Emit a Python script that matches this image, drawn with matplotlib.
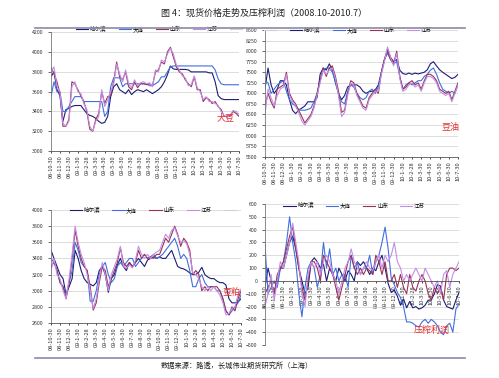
import numpy as np
import matplotlib
matplotlib.use('Agg')
import matplotlib.pyplot as plt
from matplotlib.lines import Line2D

plt.rcParams['font.family'] = ['Noto Sans CJK SC', 'DejaVu Sans']

# 月度刻度
months = ['08-10-30', '08-11-30', '08-12-30', '09-1-30', '09-2-28', '09-3-30', '09-4-30',
          '09-5-30', '09-6-30', '09-7-30', '09-8-30', '09-9-30', '09-10-30', '09-11-30',
          '09-12-30', '10-1-30', '10-2-28', '10-3-30', '10-4-30', '10-5-30', '10-6-30', '10-7-30']
names = ['哈尔滨', '大连', '山东', '江苏']
colors = ['#1c1c78', '#3f6fe0', '#993355', '#c48de6']

# 大豆
soy_hrb = [3750, 3800, 3620, 3560, 3300, 3420, 3430, 3450, 3460, 3460,
           3460, 3420, 3380, 3360, 3350, 3330, 3300, 3280, 3290, 3350,
           3550, 3650, 3680, 3620, 3600, 3580, 3620, 3570, 3600, 3620,
           3610, 3600, 3620, 3600, 3580, 3600, 3620, 3650, 3700, 3770,
           3860, 3830, 3825, 3825, 3825, 3825, 3820, 3800, 3800, 3800,
           3800, 3800, 3800, 3790, 3790, 3700, 3560, 3530, 3520, 3520,
           3520, 3520, 3520, 3520]
soy_dl = [3550, 3700, 3600, 3600, 3400, 3400, 3450, 3500, 3550, 3550,
          3550, 3500, 3500, 3500, 3500, 3500, 3500, 3500, 3350, 3400,
          3650, 3740, 3740, 3740, 3650, 3680, 3680, 3680, 3680, 3680,
          3680, 3680, 3680, 3660, 3660, 3680, 3700, 3750, 3750, 3800,
          3850, 3860, 3860, 3860, 3860, 3860, 3860, 3860, 3860, 3860,
          3860, 3860, 3860, 3860, 3860, 3820, 3730, 3680, 3670, 3670,
          3670, 3670, 3670, 3670]
soy_sd = [3850, 3780, 3700, 3580, 3250, 3250, 3320, 3700, 3680, 3620,
          3560, 3500, 3400, 3220, 3200, 3320, 3380, 3600, 3480, 3550,
          3560, 3700, 3900, 3750, 3720, 3800, 3650, 3620, 3700, 3640,
          3680, 3680, 3670, 3680, 3660, 3800, 3820, 3900, 3880, 4000,
          4050, 3950, 3850, 3800, 3780, 3720, 3680, 3650, 3750, 3620,
          3620, 3500, 3540, 3520, 3480, 3500, 3450, 3420, 3350, 3350,
          3350, 3400, 3380, 3350]
soy_js = [3800, 3850, 3650, 3600, 3280, 3250, 3300, 3650, 3700, 3600,
          3580, 3480, 3420, 3250, 3200, 3300, 3350, 3620, 3450, 3520,
          3600, 3680, 3880, 3780, 3700, 3820, 3680, 3640, 3720, 3660,
          3690, 3700, 3680, 3690, 3650, 3820, 3800, 3920, 3900, 3980,
          4040, 3980, 3870, 3820, 3760, 3740, 3660, 3670, 3760, 3640,
          3600, 3520, 3550, 3500, 3500, 3480, 3460, 3400, 3360, 3340,
          3360, 3410, 3400, 3370]

# 豆油
oil_hrb = [7100, 7600, 7200, 7000, 7100, 7300, 7300, 7200, 6850, 6600,
           6520, 6600, 6650, 6700, 6800, 6800, 6800, 6900, 7450, 7600,
           7550, 7700, 7550, 7250, 7000, 6850, 6950, 7150, 7200, 7200,
           7200, 7150, 7050, 7000, 7040, 7050, 7080, 7200, 7500, 7800,
           8050, 7850, 7750, 7800, 7550, 7470, 7450, 7480, 7450, 7480,
           7460, 7480, 7500, 7560, 7700, 7750, 7650, 7560, 7500, 7450,
           7400, 7350, 7380, 7450]
oil_dl = [7300, 7250, 7000, 7100, 7200, 7250, 7300, 7050, 6850, 6750,
          6700, 6620, 6600, 6600, 6620, 6650, 6800, 7000, 7300, 7550,
          7600, 7600, 7500, 7300, 7000, 6800, 6750, 7050, 7200, 7150,
          7000, 6900, 6850, 6900, 7050, 7100, 7000, 7150, 7500, 7800,
          7950, 7800, 7700, 7750, 7400, 7100, 7200, 7250, 7200, 7250,
          7300, 7300, 7400, 7450, 7550, 7600, 7450, 7250, 7100, 7050,
          7000, 7050, 7000, 7200]
oil_sd = [6700, 7000, 6800, 6650, 7100, 7150, 7200, 7500, 7000, 6850,
          6750, 6600, 6450, 6300, 6400, 6500, 6700, 7000, 7300, 7600,
          7400, 7600, 7650, 7400, 7050, 6550, 6600, 7000, 7300, 7250,
          7000, 6850, 6700, 6650, 6900, 7000, 7100, 7000, 7500, 7800,
          8000, 7800, 7700, 8000, 7400, 7100, 7150, 7250, 7300, 7200,
          7250, 7100, 7300, 7450, 7450, 7400, 7300, 7100, 7050, 7000,
          7050, 6850, 7050, 7250]
oil_js = [6500, 7100, 6900, 6700, 6950, 7100, 7150, 7450, 6950, 6800,
          6700, 6550, 6350, 6250, 6350, 6450, 6650, 6950, 7250, 7550,
          7450, 7550, 7600, 7350, 6950, 6450, 6550, 6950, 7250, 7200,
          6950, 6800, 6650, 6600, 6850, 6950, 7050, 7050, 7450, 7750,
          8100, 7850, 7650, 7950, 7350, 7050, 7100, 7200, 7250, 7150,
          7200, 7050, 7250, 7400, 7400, 7350, 7250, 7050, 7000, 6950,
          7000, 6800, 7000, 7200]

# 豆粕
meal_hrb = [3500, 3400, 3300, 3200, 3150, 2950, 3050, 3150, 3500, 3400,
            3250, 3150, 3100, 3080, 3060, 3100, 3250, 3300, 3200, 2980,
            3150, 3200, 3320, 3400, 3300, 3250, 3350, 3300, 3350, 3400,
            3350, 3300, 3380, 3400, 3420, 3400, 3420, 3400, 3400, 3450,
            3500, 3400, 3300, 3280, 3270, 3250, 3220, 3200, 3200, 3230,
            3290, 3200, 3170, 3150, 3150, 3120, 3100, 3100, 3070, 2900,
            2850, 2850, 2860, 2900]
meal_dl = [3400, 3350, 3250, 3100, 3050, 2950, 3100, 3250, 3600, 3500,
           3350, 3300, 3250, 2870, 2870, 3000, 3200, 3300, 3350, 3200,
           3100, 3150, 3300, 3350, 3300, 3350, 3400, 3400, 3300, 3350,
           3400, 3450, 3400, 3420, 3450, 3400, 3420, 3450, 3500, 3550,
           3600, 3650, 3550, 3400, 3450, 3400, 3250, 3050, 3050, 3150,
           3200, 3100, 3050, 3050, 3050, 3000, 3000, 2900, 2750, 2700,
           2750, 2800, 2850, 2950]
meal_sd = [3300, 3350, 3250, 3100, 3050, 2900, 3100, 3400, 3750, 3550,
           3400, 3300, 3250, 3050, 2760, 2850, 3100, 3300, 3250, 3050,
           3150, 3250, 3350, 3530, 3350, 3300, 3350, 3300, 3350, 3500,
           3400, 3450, 3400, 3420, 3400, 3450, 3450, 3550, 3650, 3600,
           3700, 3800, 3700, 3550, 3650, 3600, 3500, 3200, 3250, 3200,
           3000, 3050, 3000, 3050, 3050, 3050, 3000, 2900, 2750, 2700,
           2800, 2750, 2900, 3000]
meal_js = [3250, 3400, 3200, 3150, 3000, 2900, 3150, 3450, 3800, 3600,
           3450, 3350, 3200, 3000, 2780, 2900, 3150, 3350, 3200, 3000,
           3200, 3300, 3400, 3550, 3300, 3280, 3320, 3280, 3380, 3550,
           3450, 3400, 3450, 3400, 3450, 3480, 3500, 3600, 3700, 3650,
           3750, 3780, 3680, 3600, 3620, 3580, 3450, 3220, 3200, 3150,
           3050, 3000, 3050, 3000, 3050, 3000, 2950, 2850, 2700, 2720,
           2780, 2800, 2950, 3020]

# 压榨利润
crush_hrb = [-50, 100, 0, -100, 0, 100, 100, 200, 300, 350,
             250, 100, 0, -100, -50, 150, 180, 150, 100, 130,
             0, 100, 50, 0, 100, 50, 0, 80, 50, 0,
             150, 120, 150, 100, 50, 100, 80, 150, 200, 100,
             -20, -90, -70, -120, -190, -140, -210, -160, -210, -200,
             -220, -210, -190, -150, -150, -100, -30, -40, -150, -200,
             -210, -220, -150, -90]
crush_dl = [280, -100, -50, 0, -50, 100, 150, 300, 500, 300,
            150, -100, -280, -50, 100, 150, 100, -50, 50, 300,
            100, 250, 50, 100, 0, 50, 50, -50, 200, 100,
            150, 50, 100, 100, 200, 50, 150, 200, 300, 420,
            250, 20, -30, -90, -130, -200, -320, -320, -330, -350,
            -360, -320, -300, -330, -300, -320, -350, -400, -420, -350,
            -330, -400, -220, -180]
crush_sd = [-100, -50, 0, -100, 50, 100, 150, 250, 350, 420,
            250, 100, -50, -150, 0, 150, 150, 100, 0, 200,
            150, 100, 50, -50, -150, -50, 50, 150, 200, 100,
            50, 100, 50, 100, 80, 50, 200, 150, 50, 150,
            0, 0, 50, -50, 50, -50, -100, 50, -50, -80,
            0, 50, 0, -100, -150, -50, -100, -50, -150, 50,
            100, 100, 80, 100]
crush_js = [-200, -100, 50, -150, 0, 150, 100, 200, 300, 450,
            300, 150, -100, -200, 50, 150, 100, 150, 50, 150,
            200, 150, 50, 0, -100, 0, 100, 150, 250, 150,
            100, 50, 100, 150, 100, 80, 150, 200, 100, 200,
            150, 200, 300, 150, 100, 0, 50, 0, 50, 100,
            50, 0, 100, 50, 0, -50, 0, -100, 50, 80,
            -50, 50, 100, 150]

fig = plt.figure(figsize=(4.99, 3.78), dpi=100)


def draw(rect, series, ylo, yhi, step, tag, tag_xy, leg_x, leg_y, gray_first=None, zero_axis=False):
    ax = fig.add_axes(rect)
    if zero_axis:
        ax.spines['bottom'].set_position(('data', 0))
    n = len(series[0])
    x = np.arange(n) / 3.0
    lines = []
    for s, c, nm in zip(series, colors, names):
        ln, = ax.plot(x, s, color=c, lw=0.8, label=nm)
        lines.append(ln)
    ax.set_xlim(0, 21)
    ax.set_ylim(ylo, yhi)
    ax.set_yticks(np.arange(ylo, yhi + 1, step))
    ax.set_xticks(range(len(months)))
    ax.set_xticklabels(months, rotation=90, fontsize=4.1, color='#333333')
    ax.tick_params(axis='y', labelsize=3.8, colors='#333333', length=2, width=0.5)
    ax.tick_params(axis='x', length=1.5, width=0.5, pad=1.5)
    ax.grid(axis='y', color='#cfcfcf', lw=0.5)
    ax.set_axisbelow(True)
    for sp in ['top', 'right']:
        ax.spines[sp].set_visible(False)
    ax.spines['left'].set_color('#777777')
    ax.spines['bottom'].set_color('#555555')
    ax.spines['left'].set_linewidth(0.6)
    ax.spines['bottom'].set_linewidth(0.6)
    gray = Line2D([], [], color='#d0d0d0', lw=0.8)
    handles = lines[:]
    labels = names[:]
    if gray_first is True:
        handles = [gray] + handles
        labels = [''] + labels
    elif gray_first is False:
        handles = handles + [gray]
        labels = labels + ['']
    ax.legend(handles, labels, loc='center', bbox_to_anchor=(leg_x, leg_y), ncol=len(handles),
              frameon=False, fontsize=4, handlelength=2.2, handletextpad=0.3,
              columnspacing=2.2, borderaxespad=0)
    ax.text(tag_xy[0], tag_xy[1], tag, transform=ax.transAxes, color='#e03030',
            fontsize=6.5, ha='center', va='center')
    return ax


draw([0.1022, 0.6005, 0.3768, 0.314], [soy_hrb, soy_dl, soy_sd, soy_js], 3000, 4200, 200,
     '大豆', (0.93, 0.28), 0.58, 1.03, gray_first=False)
draw([0.531, 0.5854, 0.3868, 0.3352], [oil_hrb, oil_dl, oil_sd, oil_js], 5500, 8500, 250,
     '豆油', (0.96, 0.23), 0.43, 1.0, gray_first=True)
draw([0.1022, 0.1455, 0.3808, 0.2989], [meal_hrb, meal_dl, meal_sd, meal_js], 2600, 4000, 200,
     '豆粕', (0.95, 0.27), 0.54, 1.0, gray_first=False)
draw([0.531, 0.0873, 0.3888, 0.373], [crush_hrb, crush_dl, crush_sd, crush_js], -500, 600, 100,
     '压榨利润', (0.86, 0.1), 0.46, 0.99, zero_axis=True)

fig.text(0.53, 1 - 13 / 378, '图 4：现货价格走势及压榨利润（2008.10-2010.7）', ha='center', va='center',
         fontsize=6.5, color='#222222')
fig.add_artist(Line2D([35 / 499, 465 / 499], [1 - 28 / 378, 1 - 28 / 378], color='#8a8aa8', lw=1.2))
fig.add_artist(Line2D([35 / 499, 465 / 499], [1 - 358 / 378, 1 - 358 / 378], color='#8a8aa8', lw=1.2))
fig.text(0.475, 1 - 366 / 378, '数据来源：路透，长城伟业期货研究所（上海）', ha='center', va='center',
         fontsize=5.2, color='#222222')

fig.savefig('out.png', dpi=100)
